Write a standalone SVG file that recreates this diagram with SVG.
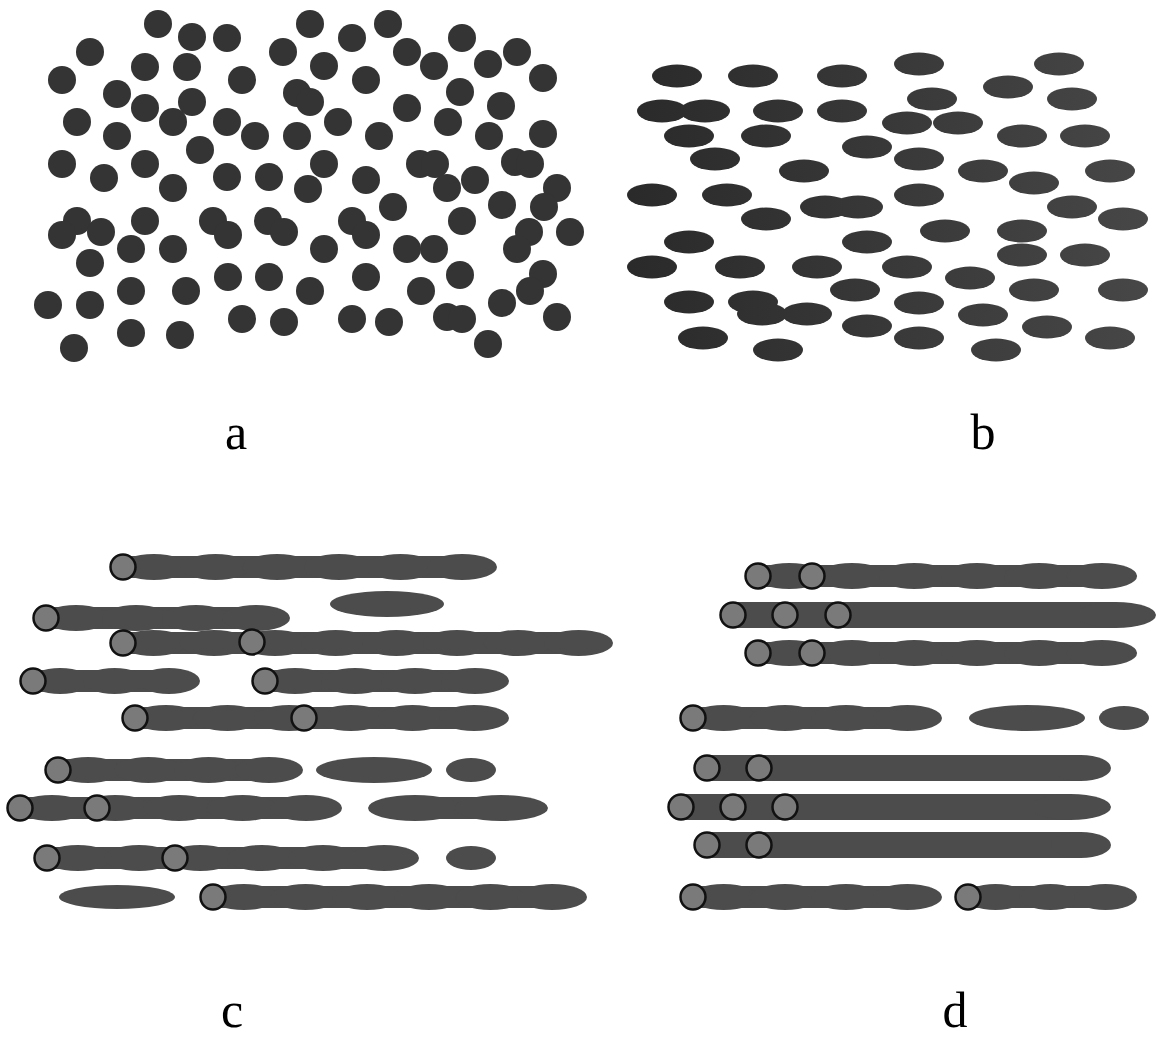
<svg xmlns="http://www.w3.org/2000/svg" width="1156" height="1038" viewBox="0 0 1156 1038">
<style>
.dot{fill:#343434}
.ov{fill:url(#gb)}
.ch{fill:#4c4c4c}
.cap{fill:#7a7a7a;stroke:#111;stroke-width:2.5}
.lbl{font-family:"Liberation Serif","Times New Roman",serif;font-size:50px;fill:#000;text-anchor:middle}
</style>
<defs>
<linearGradient id="gb" gradientUnits="userSpaceOnUse" x1="630" y1="0" x2="1150" y2="0">
<stop offset="0" stop-color="#2a2a2a"/><stop offset="1" stop-color="#474747"/>
</linearGradient>
</defs>
<rect width="1156" height="1038" fill="#fff"/>
<g id="panel-a" class="dot">
<circle cx="158" cy="24" r="14"/><circle cx="192" cy="37" r="14"/><circle cx="227" cy="38" r="14"/><circle cx="90" cy="52" r="14"/><circle cx="283" cy="52" r="14"/><circle cx="145" cy="67" r="14"/><circle cx="187" cy="67" r="14"/><circle cx="62" cy="80" r="14"/><circle cx="242" cy="80" r="14"/><circle cx="117" cy="94" r="14"/><circle cx="145" cy="108" r="14"/><circle cx="192" cy="102" r="14"/><circle cx="297" cy="93" r="14"/><circle cx="310" cy="102" r="14"/><circle cx="77" cy="122" r="14"/><circle cx="173" cy="122" r="14"/><circle cx="227" cy="122" r="14"/><circle cx="255" cy="136" r="14"/><circle cx="117" cy="136" r="14"/><circle cx="297" cy="136" r="14"/><circle cx="200" cy="150" r="14"/><circle cx="62" cy="164" r="14"/><circle cx="145" cy="164" r="14"/><circle cx="104" cy="178" r="14"/><circle cx="173" cy="188" r="14"/><circle cx="227" cy="177" r="14"/><circle cx="269" cy="177" r="14"/><circle cx="308" cy="189" r="14"/>
<circle cx="310" cy="24" r="14"/><circle cx="352" cy="38" r="14"/><circle cx="388" cy="24" r="14"/><circle cx="462" cy="38" r="14"/><circle cx="407" cy="52" r="14"/><circle cx="517" cy="52" r="14"/><circle cx="324" cy="66" r="14"/><circle cx="434" cy="66" r="14"/><circle cx="488" cy="64" r="14"/><circle cx="366" cy="80" r="14"/><circle cx="543" cy="78" r="14"/><circle cx="460" cy="92" r="14"/><circle cx="407" cy="108" r="14"/><circle cx="501" cy="106" r="14"/><circle cx="338" cy="122" r="14"/><circle cx="448" cy="122" r="14"/><circle cx="379" cy="136" r="14"/><circle cx="489" cy="136" r="14"/><circle cx="543" cy="134" r="14"/><circle cx="324" cy="164" r="14"/><circle cx="420" cy="164" r="14"/><circle cx="435" cy="164" r="14"/><circle cx="515" cy="162" r="14"/><circle cx="530" cy="164" r="14"/><circle cx="366" cy="180" r="14"/><circle cx="475" cy="180" r="14"/><circle cx="447" cy="188" r="14"/><circle cx="557" cy="188" r="14"/>
<circle cx="77" cy="221" r="14"/><circle cx="62" cy="235" r="14"/><circle cx="101" cy="232" r="14"/><circle cx="145" cy="221" r="14"/><circle cx="213" cy="221" r="14"/><circle cx="228" cy="235" r="14"/><circle cx="268" cy="221" r="14"/><circle cx="284" cy="232" r="14"/><circle cx="131" cy="249" r="14"/><circle cx="173" cy="249" r="14"/><circle cx="90" cy="263" r="14"/><circle cx="228" cy="277" r="14"/><circle cx="269" cy="277" r="14"/><circle cx="310" cy="291" r="14"/><circle cx="131" cy="291" r="14"/><circle cx="186" cy="291" r="14"/><circle cx="48" cy="305" r="14"/><circle cx="90" cy="305" r="14"/><circle cx="242" cy="319" r="14"/><circle cx="284" cy="322" r="14"/><circle cx="131" cy="333" r="14"/><circle cx="180" cy="335" r="14"/><circle cx="74" cy="348" r="14"/>
<circle cx="502" cy="205" r="14"/><circle cx="544" cy="207" r="14"/><circle cx="393" cy="207" r="14"/><circle cx="352" cy="221" r="14"/><circle cx="366" cy="235" r="14"/><circle cx="462" cy="221" r="14"/><circle cx="529" cy="232" r="14"/><circle cx="517" cy="249" r="14"/><circle cx="570" cy="232" r="14"/><circle cx="324" cy="249" r="14"/><circle cx="407" cy="249" r="14"/><circle cx="434" cy="249" r="14"/><circle cx="366" cy="277" r="14"/><circle cx="460" cy="275" r="14"/><circle cx="543" cy="274" r="14"/><circle cx="530" cy="291" r="14"/><circle cx="421" cy="291" r="14"/><circle cx="352" cy="319" r="14"/><circle cx="389" cy="322" r="14"/><circle cx="447" cy="317" r="14"/><circle cx="462" cy="319" r="14"/><circle cx="502" cy="303" r="14"/><circle cx="557" cy="317" r="14"/><circle cx="488" cy="344" r="14"/>
</g>
<g id="panel-b" class="ov">
<ellipse cx="677" cy="76" rx="25" ry="11.5"/><ellipse cx="753" cy="76" rx="25" ry="11.5"/><ellipse cx="842" cy="76" rx="25" ry="11.5"/><ellipse cx="662" cy="111" rx="25" ry="11.5"/><ellipse cx="705" cy="111" rx="25" ry="11.5"/><ellipse cx="778" cy="111" rx="25" ry="11.5"/><ellipse cx="842" cy="111" rx="25" ry="11.5"/><ellipse cx="689" cy="136" rx="25" ry="11.5"/><ellipse cx="766" cy="136" rx="25" ry="11.5"/><ellipse cx="867" cy="147" rx="25" ry="11.5"/><ellipse cx="715" cy="159" rx="25" ry="11.5"/><ellipse cx="804" cy="171" rx="25" ry="11.5"/><ellipse cx="652" cy="195" rx="25" ry="11.5"/><ellipse cx="727" cy="195" rx="25" ry="11.5"/><ellipse cx="825" cy="207" rx="25" ry="11.5"/><ellipse cx="858" cy="207" rx="25" ry="11.5"/><ellipse cx="766" cy="219" rx="25" ry="11.5"/><ellipse cx="689" cy="242" rx="25" ry="11.5"/><ellipse cx="867" cy="242" rx="25" ry="11.5"/><ellipse cx="652" cy="267" rx="25" ry="11.5"/><ellipse cx="740" cy="267" rx="25" ry="11.5"/><ellipse cx="817" cy="267" rx="25" ry="11.5"/><ellipse cx="855" cy="290" rx="25" ry="11.5"/><ellipse cx="689" cy="302" rx="25" ry="11.5"/><ellipse cx="753" cy="302" rx="25" ry="11.5"/><ellipse cx="762" cy="314" rx="25" ry="11.5"/><ellipse cx="807" cy="314" rx="25" ry="11.5"/><ellipse cx="867" cy="326" rx="25" ry="11.5"/><ellipse cx="703" cy="338" rx="25" ry="11.5"/><ellipse cx="778" cy="350" rx="25" ry="11.5"/>
<ellipse cx="919" cy="64" rx="25" ry="11.5"/><ellipse cx="1059" cy="64" rx="25" ry="11.5"/><ellipse cx="1008" cy="87" rx="25" ry="11.5"/><ellipse cx="932" cy="99" rx="25" ry="11.5"/><ellipse cx="1072" cy="99" rx="25" ry="11.5"/><ellipse cx="907" cy="123" rx="25" ry="11.5"/><ellipse cx="958" cy="123" rx="25" ry="11.5"/><ellipse cx="1022" cy="136" rx="25" ry="11.5"/><ellipse cx="1085" cy="136" rx="25" ry="11.5"/><ellipse cx="919" cy="159" rx="25" ry="11.5"/><ellipse cx="983" cy="171" rx="25" ry="11.5"/><ellipse cx="1034" cy="183" rx="25" ry="11.5"/><ellipse cx="1110" cy="171" rx="25" ry="11.5"/><ellipse cx="919" cy="195" rx="25" ry="11.5"/><ellipse cx="1072" cy="207" rx="25" ry="11.5"/><ellipse cx="1123" cy="219" rx="25" ry="11.5"/><ellipse cx="945" cy="231" rx="25" ry="11.5"/><ellipse cx="1022" cy="231" rx="25" ry="11.5"/><ellipse cx="1022" cy="255" rx="25" ry="11.5"/><ellipse cx="1085" cy="255" rx="25" ry="11.5"/><ellipse cx="907" cy="267" rx="25" ry="11.5"/><ellipse cx="970" cy="278" rx="25" ry="11.5"/><ellipse cx="1034" cy="290" rx="25" ry="11.5"/><ellipse cx="1123" cy="290" rx="25" ry="11.5"/><ellipse cx="919" cy="303" rx="25" ry="11.5"/><ellipse cx="983" cy="315" rx="25" ry="11.5"/><ellipse cx="1047" cy="327" rx="25" ry="11.5"/><ellipse cx="1110" cy="338" rx="25" ry="11.5"/><ellipse cx="919" cy="338" rx="25" ry="11.5"/><ellipse cx="996" cy="350" rx="25" ry="11.5"/>
</g>
<g id="panel-c">
<g class="ch">
<rect x="123" y="556" width="339.2" height="22"/><ellipse cx="153.8" cy="567" rx="34.8" ry="13"/><ellipse cx="215.5" cy="567" rx="34.8" ry="13"/><ellipse cx="277.2" cy="567" rx="34.8" ry="13"/><ellipse cx="338.8" cy="567" rx="34.8" ry="13"/><ellipse cx="400.5" cy="567" rx="34.8" ry="13"/><ellipse cx="462.2" cy="567" rx="34.8" ry="13"/>
<rect x="46" y="607" width="210" height="22"/><ellipse cx="76" cy="618" rx="34" ry="13"/><ellipse cx="136" cy="618" rx="34" ry="13"/><ellipse cx="196" cy="618" rx="34" ry="13"/><ellipse cx="256" cy="618" rx="34" ry="13"/>
<ellipse cx="387" cy="604" rx="57" ry="13"/>
<rect x="123" y="632" width="455.6" height="22"/><ellipse cx="153.4" cy="643" rx="34.4" ry="13"/><ellipse cx="214.1" cy="643" rx="34.4" ry="13"/><ellipse cx="274.9" cy="643" rx="34.4" ry="13"/><ellipse cx="335.6" cy="643" rx="34.4" ry="13"/><ellipse cx="396.4" cy="643" rx="34.4" ry="13"/><ellipse cx="457.1" cy="643" rx="34.4" ry="13"/><ellipse cx="517.9" cy="643" rx="34.4" ry="13"/><ellipse cx="578.6" cy="643" rx="34.4" ry="13"/>
<rect x="33" y="670" width="135.8" height="22"/><ellipse cx="60.2" cy="681" rx="31.2" ry="13"/><ellipse cx="114.5" cy="681" rx="31.2" ry="13"/><ellipse cx="168.8" cy="681" rx="31.2" ry="13"/>
<rect x="265" y="670" width="210" height="22"/><ellipse cx="295" cy="681" rx="34" ry="13"/><ellipse cx="355" cy="681" rx="34" ry="13"/><ellipse cx="415" cy="681" rx="34" ry="13"/><ellipse cx="475" cy="681" rx="34" ry="13"/>
<rect x="135" y="707" width="339.2" height="22"/><ellipse cx="165.8" cy="718" rx="34.8" ry="13"/><ellipse cx="227.5" cy="718" rx="34.8" ry="13"/><ellipse cx="289.2" cy="718" rx="34.8" ry="13"/><ellipse cx="350.8" cy="718" rx="34.8" ry="13"/><ellipse cx="412.5" cy="718" rx="34.8" ry="13"/><ellipse cx="474.2" cy="718" rx="34.8" ry="13"/>
<rect x="58" y="759" width="210.9" height="22"/><ellipse cx="88.1" cy="770" rx="34.1" ry="13"/><ellipse cx="148.4" cy="770" rx="34.1" ry="13"/><ellipse cx="208.6" cy="770" rx="34.1" ry="13"/><ellipse cx="268.9" cy="770" rx="34.1" ry="13"/>
<ellipse cx="374" cy="770" rx="58" ry="13"/><ellipse cx="471" cy="770" rx="25" ry="12"/>
<rect x="20" y="797" width="286.2" height="22"/><ellipse cx="51.8" cy="808" rx="35.8" ry="13"/><ellipse cx="115.4" cy="808" rx="35.8" ry="13"/><ellipse cx="179" cy="808" rx="35.8" ry="13"/><ellipse cx="242.6" cy="808" rx="35.8" ry="13"/><ellipse cx="306.2" cy="808" rx="35.8" ry="13"/>
<rect x="415" y="797" width="86" height="22"/><ellipse cx="415" cy="808" rx="47" ry="13"/><ellipse cx="501" cy="808" rx="47" ry="13"/>
<rect x="47" y="847" width="337.3" height="22"/><ellipse cx="77.7" cy="858" rx="34.7" ry="13"/><ellipse cx="139" cy="858" rx="34.7" ry="13"/><ellipse cx="200.3" cy="858" rx="34.7" ry="13"/><ellipse cx="261.7" cy="858" rx="34.7" ry="13"/><ellipse cx="323" cy="858" rx="34.7" ry="13"/><ellipse cx="384.3" cy="858" rx="34.7" ry="13"/>
<ellipse cx="471" cy="858" rx="25" ry="12"/>
<ellipse cx="117" cy="897" rx="58" ry="12"/>
<rect x="213" y="886" width="339.2" height="22"/><ellipse cx="243.8" cy="897" rx="34.8" ry="13"/><ellipse cx="305.5" cy="897" rx="34.8" ry="13"/><ellipse cx="367.2" cy="897" rx="34.8" ry="13"/><ellipse cx="428.8" cy="897" rx="34.8" ry="13"/><ellipse cx="490.5" cy="897" rx="34.8" ry="13"/><ellipse cx="552.2" cy="897" rx="34.8" ry="13"/>
</g>
<g class="cap">
<circle cx="123" cy="567" r="12.5"/><circle cx="46" cy="618" r="12.5"/><circle cx="123" cy="643" r="12.5"/><circle cx="252" cy="642" r="12.5"/><circle cx="33" cy="681" r="12.5"/><circle cx="265" cy="681" r="12.5"/><circle cx="135" cy="718" r="12.5"/><circle cx="304" cy="718" r="12.5"/><circle cx="58" cy="770" r="12.5"/><circle cx="20" cy="808" r="12.5"/><circle cx="97" cy="808" r="12.5"/><circle cx="47" cy="858" r="12.5"/><circle cx="175" cy="858" r="12.5"/><circle cx="213" cy="897" r="12.5"/>
</g>
</g>
<g id="panel-d">
<g class="ch">
<rect x="758" y="565" width="343.8" height="22"/><ellipse cx="789.3" cy="576" rx="35.3" ry="13"/><ellipse cx="851.8" cy="576" rx="35.3" ry="13"/><ellipse cx="914.3" cy="576" rx="35.3" ry="13"/><ellipse cx="976.8" cy="576" rx="35.3" ry="13"/><ellipse cx="1039.3" cy="576" rx="35.3" ry="13"/><ellipse cx="1101.8" cy="576" rx="35.3" ry="13"/>
<rect x="733" y="602" width="383" height="26"/><ellipse cx="1116" cy="615" rx="40" ry="13"/>
<rect x="758" y="642" width="343.8" height="22"/><ellipse cx="789.3" cy="653" rx="35.3" ry="13"/><ellipse cx="851.8" cy="653" rx="35.3" ry="13"/><ellipse cx="914.3" cy="653" rx="35.3" ry="13"/><ellipse cx="976.8" cy="653" rx="35.3" ry="13"/><ellipse cx="1039.3" cy="653" rx="35.3" ry="13"/><ellipse cx="1101.8" cy="653" rx="35.3" ry="13"/>
<rect x="693" y="707" width="214.4" height="22"/><ellipse cx="723.6" cy="718" rx="34.6" ry="13"/><ellipse cx="784.9" cy="718" rx="34.6" ry="13"/><ellipse cx="846.1" cy="718" rx="34.6" ry="13"/><ellipse cx="907.4" cy="718" rx="34.6" ry="13"/>
<ellipse cx="1027" cy="718" rx="58" ry="13"/><ellipse cx="1124" cy="718" rx="25" ry="12"/>
<rect x="707" y="755" width="374" height="26"/><ellipse cx="1081" cy="768" rx="30" ry="13"/>
<rect x="681" y="794" width="390" height="26"/><ellipse cx="1071" cy="807" rx="40" ry="13"/>
<rect x="707" y="832" width="374" height="26"/><ellipse cx="1081" cy="845" rx="30" ry="13"/>
<rect x="693" y="886" width="214.4" height="22"/><ellipse cx="723.6" cy="897" rx="34.6" ry="13"/><ellipse cx="784.9" cy="897" rx="34.6" ry="13"/><ellipse cx="846.1" cy="897" rx="34.6" ry="13"/><ellipse cx="907.4" cy="897" rx="34.6" ry="13"/>
<rect x="968" y="886" width="137.5" height="22"/><ellipse cx="995.5" cy="897" rx="31.5" ry="13"/><ellipse cx="1050.5" cy="897" rx="31.5" ry="13"/><ellipse cx="1105.5" cy="897" rx="31.5" ry="13"/>
</g>
<g class="cap">
<circle cx="758" cy="576" r="12.5"/><circle cx="812" cy="576" r="12.5"/><circle cx="733" cy="615" r="12.5"/><circle cx="785" cy="615" r="12.5"/><circle cx="838" cy="615" r="12.5"/><circle cx="758" cy="653" r="12.5"/><circle cx="812" cy="653" r="12.5"/><circle cx="693" cy="718" r="12.5"/><circle cx="707" cy="768" r="12.5"/><circle cx="759" cy="768" r="12.5"/><circle cx="681" cy="807" r="12.5"/><circle cx="733" cy="807" r="12.5"/><circle cx="785" cy="807" r="12.5"/><circle cx="707" cy="845" r="12.5"/><circle cx="759" cy="845" r="12.5"/><circle cx="693" cy="897" r="12.5"/><circle cx="968" cy="897" r="12.5"/>
</g>
</g>
<g id="labels" class="lbl">
<text x="236" y="449">a</text>
<text x="983" y="449">b</text>
<text x="232" y="1027">c</text>
<text x="955" y="1027">d</text>
</g>
</svg>
